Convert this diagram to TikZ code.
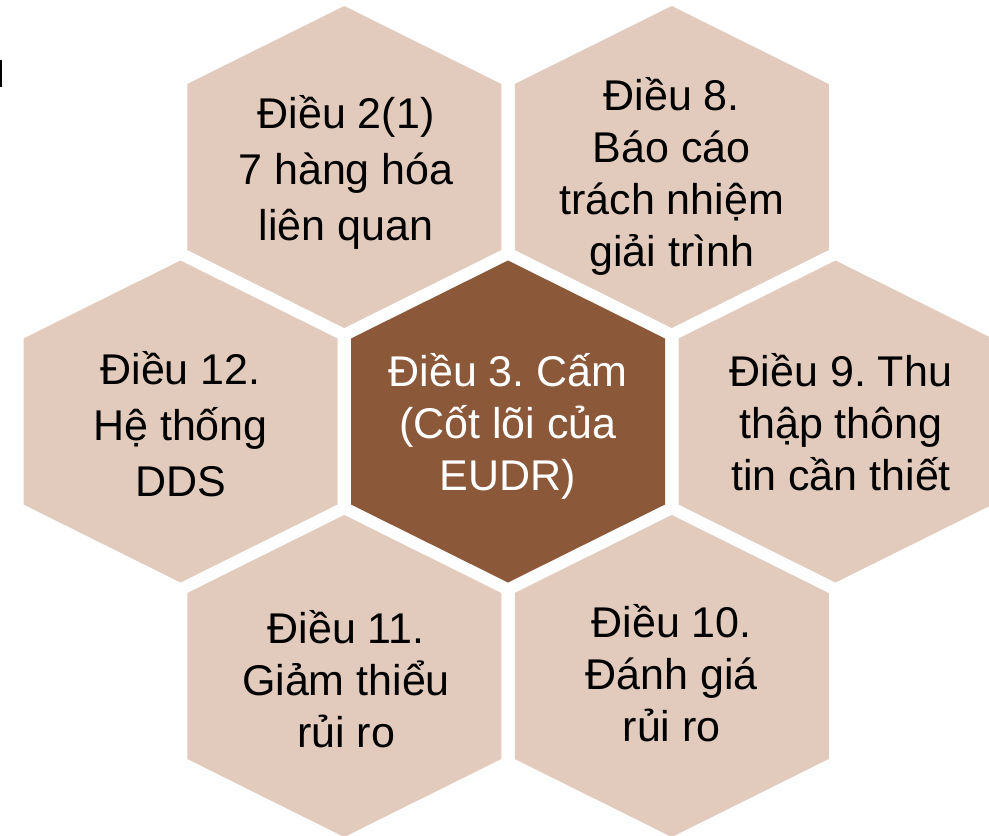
\documentclass[tikz,border=0pt]{standalone}
\usepackage{fontspec}
\setmainfont{Liberation Sans}
\frenchspacing
\definecolor{hexlight}{RGB}{226,203,188}
\definecolor{hexdark}{RGB}{139,88,58}
\tikzset{
  hextext/.style={align=center, inner sep=0pt, font=\fontsize{43}{52}\selectfont},
  hexcell/.pic={
    \path[pic actions] (0,-161) -- (157,-83) -- (157,83) -- (0,161)
      -- (-157,83) -- (-157,-83) -- cycle;
  },
}
\begin{document}
\begin{tikzpicture}[x=1pt,y=-1pt]
      \clip (0,0) rectangle (989,836);
      \fill[white] (0,0) rectangle (989,836);
      \fill[black] (0,60) rectangle (1.5,87);
      % ring of articles round the core
      \foreach \cx/\cy in {344.25/167, 671.75/167, 180.5/421.5,
                           835.5/421.5, 344.25/676, 671.75/676}
        \pic[fill=hexlight] at (\cx,\cy) {hexcell};
      \pic[fill=hexdark] at (508,421.5) {hexcell};
      \node[hextext, text=white] (art3) at (508,426)
        {Điều 3. Cấm\\(Cốt lõi của\\EUDR)};
      \node[hextext, font=\fontsize{43}{56}\selectfont] (art2) at (346,172)
        {Điều 2(1)\\7 hàng hóa\\liên quan};
      \node[hextext] (art8) at (671.75,176)
        {Điều 8.\\Báo cáo\\trách nhiệm\\giải trình};
      \node[hextext] (art9) at (841,422)
        {Điều 9. Thu\\thập thông\\tin cần thiết};
      \node[hextext] (art10) at (671.75,673)
        {Điều 10.\\Đánh giá\\rủi ro};
      \node[hextext] (art11) at (346,679)
        {Điều 11.\\Giảm thiểu\\rủi ro};
      \node[hextext, font=\fontsize{43}{56}\selectfont] (art12) at (180.5,424.5)
        {Điều 12.\\Hệ thống\\DDS};
    \end{tikzpicture}
\end{document}
